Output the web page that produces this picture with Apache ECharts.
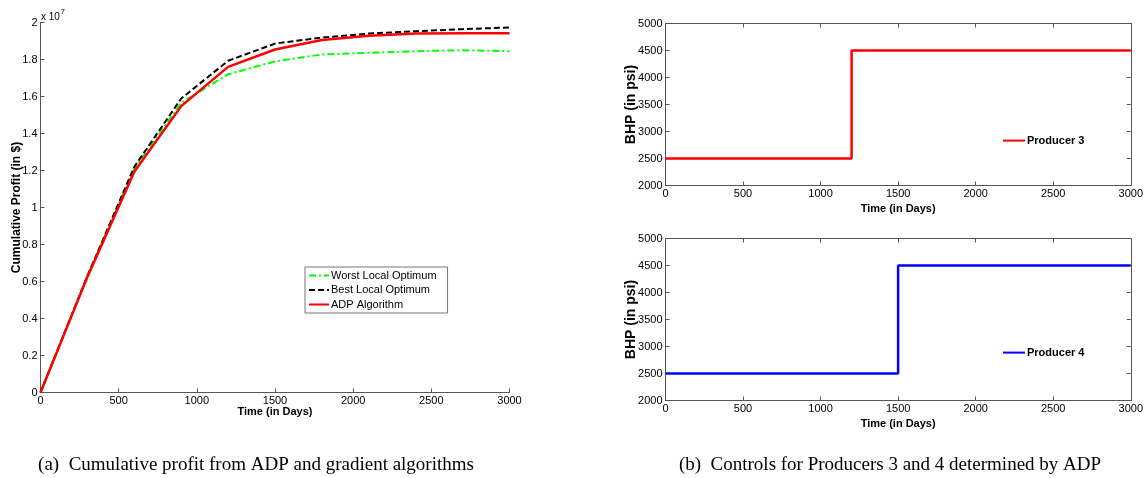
<!DOCTYPE html>
<html>
<head>
<meta charset="utf-8">
<script src="https://cdn.jsdelivr.net/npm/echarts@6/dist/echarts.min.js"></script>
<style>
html,body{margin:0;padding:0;background:#fff;}
#c{width:1146px;height:478px;}
</style>
</head>
<body>
<div id="c"></div>
<script>
// ---- Data ----
const days = [0, 300, 600, 900, 1200, 1500, 1800, 2100, 2400, 2700, 3000];
const worstProfit = [0, 0.63, 1.21, 1.566, 1.72, 1.79, 1.827, 1.836, 1.845, 1.85, 1.845]; // x 10^7 $
const bestProfit  = [0, 0.63, 1.22, 1.589, 1.793, 1.886, 1.919, 1.94, 1.953, 1.964, 1.973];
const adpProfit   = [0, 0.625, 1.193, 1.548, 1.76, 1.854, 1.905, 1.928, 1.94, 1.942, 1.942];

const p3Days = [0, 1200, 1200, 3000];
const p3Bhp  = [2500, 2500, 4500, 4500];
const p4Days = [0, 1500, 1500, 3000];
const p4Bhp  = [2500, 2500, 4500, 4500];

const seriesNames = ['Worst Local Optimum', 'Best Local Optimum', 'ADP Algorithm'];
const captionA = '(a)  Cumulative profit from ADP and gradient algorithms';
const captionB = '(b)  Controls for Producers 3 and 4 determined by ADP';

const zip = (xs, ys) => xs.map((x, i) => [x, ys[i]]);

const FONT = 'Liberation Sans, Arial, sans-serif';
const AX = '#555';
const plain = v => String(+v.toFixed(6));
const lbl = {color: '#000', fontSize: 11, fontFamily: FONT, formatter: plain};

function xAxisMain(grid, name, gap) {
  return {
    type: 'value', gridIndex: grid, min: 0, max: 3000, interval: 500,
    name: name, nameLocation: 'middle', nameGap: gap, nameMoveOverlap: false,
    nameTextStyle: {color: '#000', fontSize: 11, fontWeight: 'bold', fontFamily: FONT},
    axisLine: {show: true, onZero: false, lineStyle: {color: AX, width: 1}},
    axisTick: {show: true, inside: true, length: 4, lineStyle: {color: AX}},
    axisLabel: Object.assign({margin: 3}, lbl),
    splitLine: {show: false}
  };
}
function yAxisMain(grid, min, max, interval, name, gap, nameSize) {
  return {
    type: 'value', gridIndex: grid, min: min, max: max, interval: interval,
    name: name, nameLocation: 'middle', nameGap: gap, nameMoveOverlap: false,
    nameTextStyle: {color: '#000', fontSize: nameSize, fontWeight: 'bold', fontFamily: FONT},
    axisLine: {show: true, onZero: false, lineStyle: {color: AX, width: 1}},
    axisTick: {show: true, inside: true, length: 4, lineStyle: {color: AX}},
    axisLabel: Object.assign({margin: 3}, lbl),
    splitLine: {show: false}
  };
}
function xAxisTop(grid) {
  return {
    type: 'value', gridIndex: grid, position: 'top', min: 0, max: 3000, interval: 500,
    axisLine: {show: true, onZero: false, lineStyle: {color: AX, width: 1}},
    axisTick: {show: true, inside: true, length: 4, lineStyle: {color: AX}},
    axisLabel: {show: false}, splitLine: {show: false}
  };
}
function yAxisRight(grid, min, max, interval) {
  return {
    type: 'value', gridIndex: grid, position: 'right', min: min, max: max, interval: interval,
    axisLine: {show: true, onZero: false, lineStyle: {color: AX, width: 1}},
    axisTick: {show: true, inside: true, length: 4, lineStyle: {color: AX}},
    axisLabel: {show: false}, splitLine: {show: false}
  };
}

const noSymbol = {color: 'transparent', borderWidth: 0, opacity: 0};

const chart = echarts.init(document.getElementById('c'), null, {renderer: 'canvas'});
chart.setOption({
  animation: false,
  backgroundColor: '#fff',
  grid: [
    {left: 40.5, top: 22.5, width: 469, height: 370},
    {left: 665.5, top: 23.5, width: 469, height: 162},
    {left: 665.5, top: 238.5, width: 469, height: 162}
  ],
  xAxis: [
    xAxisMain(0, 'Time (in Days)', 14),
    xAxisMain(1, 'Time (in Days)', 18),
    xAxisMain(2, 'Time (in Days)', 18),
    xAxisTop(1),
    xAxisTop(2)
  ],
  yAxis: [
    yAxisMain(0, 0, 2, 0.2, 'Cumulative Profit (in $)', 18, 12),
    yAxisMain(1, 2000, 5000, 500, 'BHP (in psi)', 27, 14),
    yAxisMain(2, 2000, 5000, 500, 'BHP (in psi)', 27, 14),
    yAxisRight(1, 2000, 5000, 500),
    yAxisRight(2, 2000, 5000, 500)
  ],
  legend: [
    {
      data: seriesNames, orient: 'vertical', left: 305, top: 267,
      backgroundColor: '#fff', borderColor: '#777', borderWidth: 1,
      padding: [2, 11, 2, 3], itemGap: 1.5, itemWidth: 20, itemHeight: 13,
      itemStyle: noSymbol,
      textStyle: {color: '#000', fontSize: 11, lineHeight: 13, fontFamily: FONT, padding: [0, 0, 0, -3]}
    },
    {
      data: ['Producer 3'], left: 1002, top: 135, padding: 0,
      itemWidth: 22, itemHeight: 14, itemStyle: noSymbol,
      textStyle: {color: '#000', fontSize: 11, fontWeight: 'bold', fontFamily: FONT, padding: [0, 0, 0, -3]}
    },
    {
      data: ['Producer 4'], left: 1002, top: 347, padding: 0,
      itemWidth: 22, itemHeight: 14, itemStyle: noSymbol,
      textStyle: {color: '#000', fontSize: 11, fontWeight: 'bold', fontFamily: FONT, padding: [0, 0, 0, -3]}
    }
  ],
  graphic: [
    {
      type: 'text', left: 41, top: 9,
      style: {
        text: '{a|x 10}{s|7}',
        rich: {
          a: {fontSize: 10, fontFamily: FONT, fill: '#000', verticalAlign: 'bottom'},
          s: {fontSize: 7, fontFamily: FONT, fill: '#000', verticalAlign: 'top', padding: [0, 0, 6, 1]}
        }
      }
    },
    {
      type: 'text', x: 256, y: 465,
      style: {text: captionA, fill: '#000', fontSize: 19, fontFamily: 'Liberation Serif, Times New Roman, serif',
        textAlign: 'center', textVerticalAlign: 'middle'}
    },
    {
      type: 'text', x: 890, y: 465,
      style: {text: captionB, fill: '#000', fontSize: 19, fontFamily: 'Liberation Serif, Times New Roman, serif',
        textAlign: 'center', textVerticalAlign: 'middle'}
    }
  ],
  series: [
    {
      name: seriesNames[0], type: 'line', xAxisIndex: 0, yAxisIndex: 0,
      data: zip(days, worstProfit), symbol: 'none', showSymbol: false,
      lineStyle: {color: '#00ff00', width: 2, type: [7, 3, 2, 3]},
      itemStyle: {color: '#00ff00'}
    },
    {
      name: seriesNames[1], type: 'line', xAxisIndex: 0, yAxisIndex: 0,
      data: zip(days, bestProfit), symbol: 'none', showSymbol: false,
      lineStyle: {color: '#000', width: 2, type: [6, 3]},
      itemStyle: {color: '#000'}
    },
    {
      name: seriesNames[2], type: 'line', xAxisIndex: 0, yAxisIndex: 0,
      data: zip(days, adpProfit), symbol: 'none', showSymbol: false,
      lineStyle: {color: '#ff0000', width: 2.5},
      itemStyle: {color: '#ff0000'}
    },
    {
      name: 'Producer 3', type: 'line', xAxisIndex: 1, yAxisIndex: 1,
      data: zip(p3Days, p3Bhp), symbol: 'none', showSymbol: false,
      lineStyle: {color: '#ff0000', width: 2.5},
      itemStyle: {color: '#ff0000'}
    },
    {
      name: 'Producer 4', type: 'line', xAxisIndex: 2, yAxisIndex: 2,
      data: zip(p4Days, p4Bhp), symbol: 'none', showSymbol: false,
      lineStyle: {color: '#0000ff', width: 2.5},
      itemStyle: {color: '#0000ff'}
    }
  ]
});
</script>
</body>
</html>
